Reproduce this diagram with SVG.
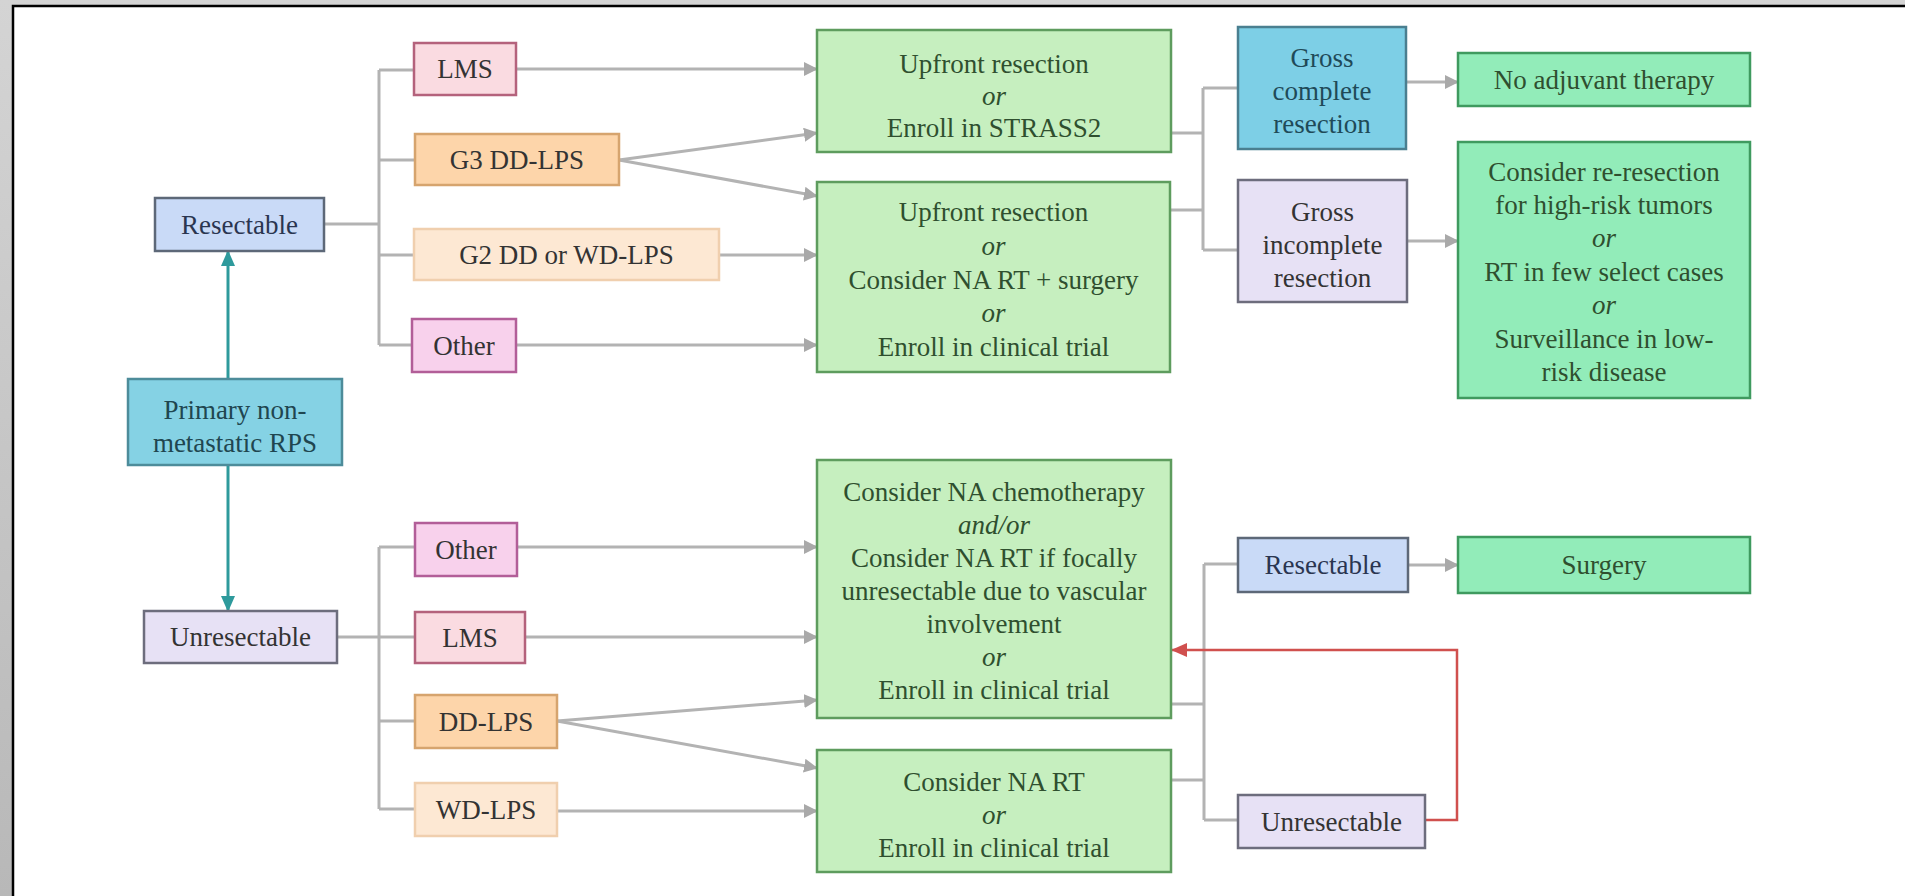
<svg xmlns="http://www.w3.org/2000/svg" width="1905" height="896" viewBox="0 0 1905 896">
<defs>
<linearGradient id="gframe" x1="0" y1="0" x2="0" y2="1">
<stop offset="0" stop-color="#d4d4d4"/>
<stop offset="1" stop-color="#b8b8b8"/>
</linearGradient>
<marker id="ag" markerUnits="userSpaceOnUse" markerWidth="14" markerHeight="14" viewBox="0 0 14 14" refX="13" refY="7" orient="auto">
<path d="M0,0 L14,7 L0,14 Z" fill="#a9a9a9"/>
</marker>
<marker id="at" markerUnits="userSpaceOnUse" markerWidth="16" markerHeight="16" viewBox="0 0 16 16" refX="15" refY="8" orient="auto">
<path d="M0,1 L16,8 L0,15 Z" fill="#2e9a9c"/>
</marker>
<marker id="ar" markerUnits="userSpaceOnUse" markerWidth="16" markerHeight="16" viewBox="0 0 16 16" refX="15" refY="8" orient="auto">
<path d="M0,1 L16,8 L0,15 Z" fill="#d0504e"/>
</marker>
</defs>
<style>
text{font-family:"Liberation Serif","Times New Roman",serif;font-size:27px;text-anchor:middle;fill:#333333}
.i{font-style:italic}
.c{fill:none;stroke:#b3b3b3;stroke-width:3}
.tl{fill:none;stroke:#2e9a9c;stroke-width:3}
.rd{fill:none;stroke:#d0504e;stroke-width:2.5}
rect{stroke-width:2.5}
.green{fill:#c6efbf;stroke:#5e9c5e}
.green text, text.gt{fill:#2f4f2f}
.bgreen{fill:#92ecb9;stroke:#3f9a5f}
.pink{fill:#fadbe1;stroke:#b4627c}
.mag{fill:#f8d1ec;stroke:#b25e98}
.orange{fill:#fdd5aa;stroke:#d6a46e}
.peach{fill:#fde8d3;stroke:#f0cfae}
.blue{fill:#c9daf7;stroke:#5d6878}
.lav{fill:#e7e1f5;stroke:#6d6d7d}
.teal{fill:#85d2e4;stroke:#4d8c9a}
.sky{fill:#7dcfe6;stroke:#4a7f90}
</style>
<rect x="0" y="0" width="1905" height="896" fill="url(#gframe)"/>
<rect x="13" y="6" width="1892" height="890" fill="#ffffff"/>
<path d="M13,896 L13,6 L1905,6" fill="none" stroke="#000" stroke-width="2.5"/>

<g id="connectors">
<path class="c" d="M324,224 H379 M379,70 V345 M379,70 H414 M379,160 H415 M379,255 H414 M379,345 H412"/>
<path class="c" d="M516,69 H817" marker-end="url(#ag)"/>
<path class="c" d="M619,160 L817,133" marker-end="url(#ag)"/>
<path class="c" d="M619,160 L817,196" marker-end="url(#ag)"/>
<path class="c" d="M719,255 H817" marker-end="url(#ag)"/>
<path class="c" d="M516,345 H817" marker-end="url(#ag)"/>
<path class="c" d="M1171,133 H1203 M1170,210 H1203 M1203,88 V250 M1203,88 H1238 M1203,250 H1238"/>
<path class="c" d="M1406,82 H1458" marker-end="url(#ag)"/>
<path class="c" d="M1407,241 H1458" marker-end="url(#ag)"/>
<path class="tl" d="M228,379 V251" marker-end="url(#at)"/>
<path class="tl" d="M228,465 V611" marker-end="url(#at)"/>
<path class="c" d="M337,637 H379 M379,547 V809 M379,547 H415 M379,637 H415 M379,721 H415 M379,809 H415"/>
<path class="c" d="M517,547 H817" marker-end="url(#ag)"/>
<path class="c" d="M525,637 H817" marker-end="url(#ag)"/>
<path class="c" d="M557,721 L817,700" marker-end="url(#ag)"/>
<path class="c" d="M557,721 L817,768" marker-end="url(#ag)"/>
<path class="c" d="M557,811 H817" marker-end="url(#ag)"/>
<path class="c" d="M1171,704 H1204 M1171,780 H1204 M1204,564 V820 M1204,564 H1238 M1204,820 H1238"/>
<path class="c" d="M1408,565 H1458" marker-end="url(#ag)"/>
<path class="rd" d="M1425,820 H1457 V650 H1172" marker-end="url(#ar)"/>
</g>

<g id="n-primary"><rect class="teal" x="128" y="379" width="214" height="86"/>
<text x="235" y="419" style="fill:#1f4650">Primary non-</text><text x="235" y="452" style="fill:#1f4650">metastatic RPS</text></g>
<g id="n-resectable"><rect class="blue" x="155" y="198" width="169" height="53"/>
<text x="239.5" y="234" style="fill:#2a3550">Resectable</text></g>
<g id="n-unresectable"><rect class="lav" x="144" y="611" width="193" height="52"/>
<text x="240.5" y="646">Unresectable</text></g>

<g id="n-lms1"><rect class="pink" x="414" y="43" width="102" height="52"/>
<text x="465" y="78">LMS</text></g>
<g id="n-g3"><rect class="orange" x="415" y="134" width="204" height="51"/>
<text x="517" y="169">G3 DD-LPS</text></g>
<g id="n-g2"><rect class="peach" x="414" y="229" width="305" height="51"/>
<text x="566.5" y="264">G2 DD or WD-LPS</text></g>
<g id="n-other1"><rect class="mag" x="412" y="319" width="104" height="53"/>
<text x="464" y="355">Other</text></g>

<g id="n-upfront1"><rect class="green" x="817" y="30" width="354" height="122"/>
<text class="gt" x="994" y="73">Upfront resection</text>
<text class="gt i" x="994" y="105">or</text>
<text class="gt" x="994" y="137">Enroll in STRASS2</text></g>
<g id="n-upfront2"><rect class="green" x="817" y="182" width="353" height="190"/>
<text class="gt" x="993.5" y="221">Upfront resection</text>
<text class="gt i" x="993.5" y="255">or</text>
<text class="gt" x="993.5" y="289">Consider NA RT + surgery</text>
<text class="gt i" x="993.5" y="322">or</text>
<text class="gt" x="993.5" y="356">Enroll in clinical trial</text></g>

<g id="n-grosscomplete"><rect class="sky" x="1238" y="27" width="168" height="122"/>
<text x="1322" y="67" style="fill:#1f4a58">Gross</text>
<text x="1322" y="100" style="fill:#1f4a58">complete</text>
<text x="1322" y="133" style="fill:#1f4a58">resection</text></g>
<g id="n-grossincomplete"><rect class="lav" x="1238" y="180" width="169" height="122"/>
<text x="1322.5" y="221">Gross</text>
<text x="1322.5" y="254">incomplete</text>
<text x="1322.5" y="287">resection</text></g>

<g id="n-noadjuvant"><rect class="bgreen" x="1458" y="53" width="292" height="53"/>
<text class="gt" x="1604" y="89">No adjuvant therapy</text></g>
<g id="n-reresection"><rect class="bgreen" x="1458" y="142" width="292" height="256"/>
<text class="gt" x="1604" y="181">Consider re-resection</text>
<text class="gt" x="1604" y="214">for high-risk tumors</text>
<text class="gt i" x="1604" y="247">or</text>
<text class="gt" x="1604" y="281">RT in few select cases</text>
<text class="gt i" x="1604" y="314">or</text>
<text class="gt" x="1604" y="348">Surveillance in low-</text>
<text class="gt" x="1604" y="381">risk disease</text></g>

<g id="n-other2"><rect class="mag" x="415" y="523" width="102" height="53"/>
<text x="466" y="559">Other</text></g>
<g id="n-lms2"><rect class="pink" x="415" y="612" width="110" height="51"/>
<text x="470" y="647">LMS</text></g>
<g id="n-ddlps"><rect class="orange" x="415" y="695" width="142" height="53"/>
<text x="486" y="731">DD-LPS</text></g>
<g id="n-wdlps"><rect class="peach" x="415" y="783" width="142" height="53"/>
<text x="486" y="819">WD-LPS</text></g>

<g id="n-nachemo"><rect class="green" x="817" y="460" width="354" height="258"/>
<text class="gt" x="994" y="501">Consider NA chemotherapy</text>
<text class="gt i" x="994" y="534">and/or</text>
<text class="gt" x="994" y="567">Consider NA RT if focally</text>
<text class="gt" x="994" y="600">unresectable due to vascular</text>
<text class="gt" x="994" y="633">involvement</text>
<text class="gt i" x="994" y="666">or</text>
<text class="gt" x="994" y="699">Enroll in clinical trial</text></g>
<g id="n-nart"><rect class="green" x="817" y="750" width="354" height="122"/>
<text class="gt" x="994" y="791">Consider NA RT</text>
<text class="gt i" x="994" y="824">or</text>
<text class="gt" x="994" y="857">Enroll in clinical trial</text></g>

<g id="n-resectable2"><rect class="blue" x="1238" y="538" width="170" height="54"/>
<text x="1323" y="574" style="fill:#2a3550">Resectable</text></g>
<g id="n-surgery"><rect class="bgreen" x="1458" y="537" width="292" height="56"/>
<text class="gt" x="1604" y="574">Surgery</text></g>
<g id="n-unresectable2"><rect class="lav" x="1238" y="795" width="187" height="53"/>
<text x="1331.5" y="831">Unresectable</text></g>
</svg>
